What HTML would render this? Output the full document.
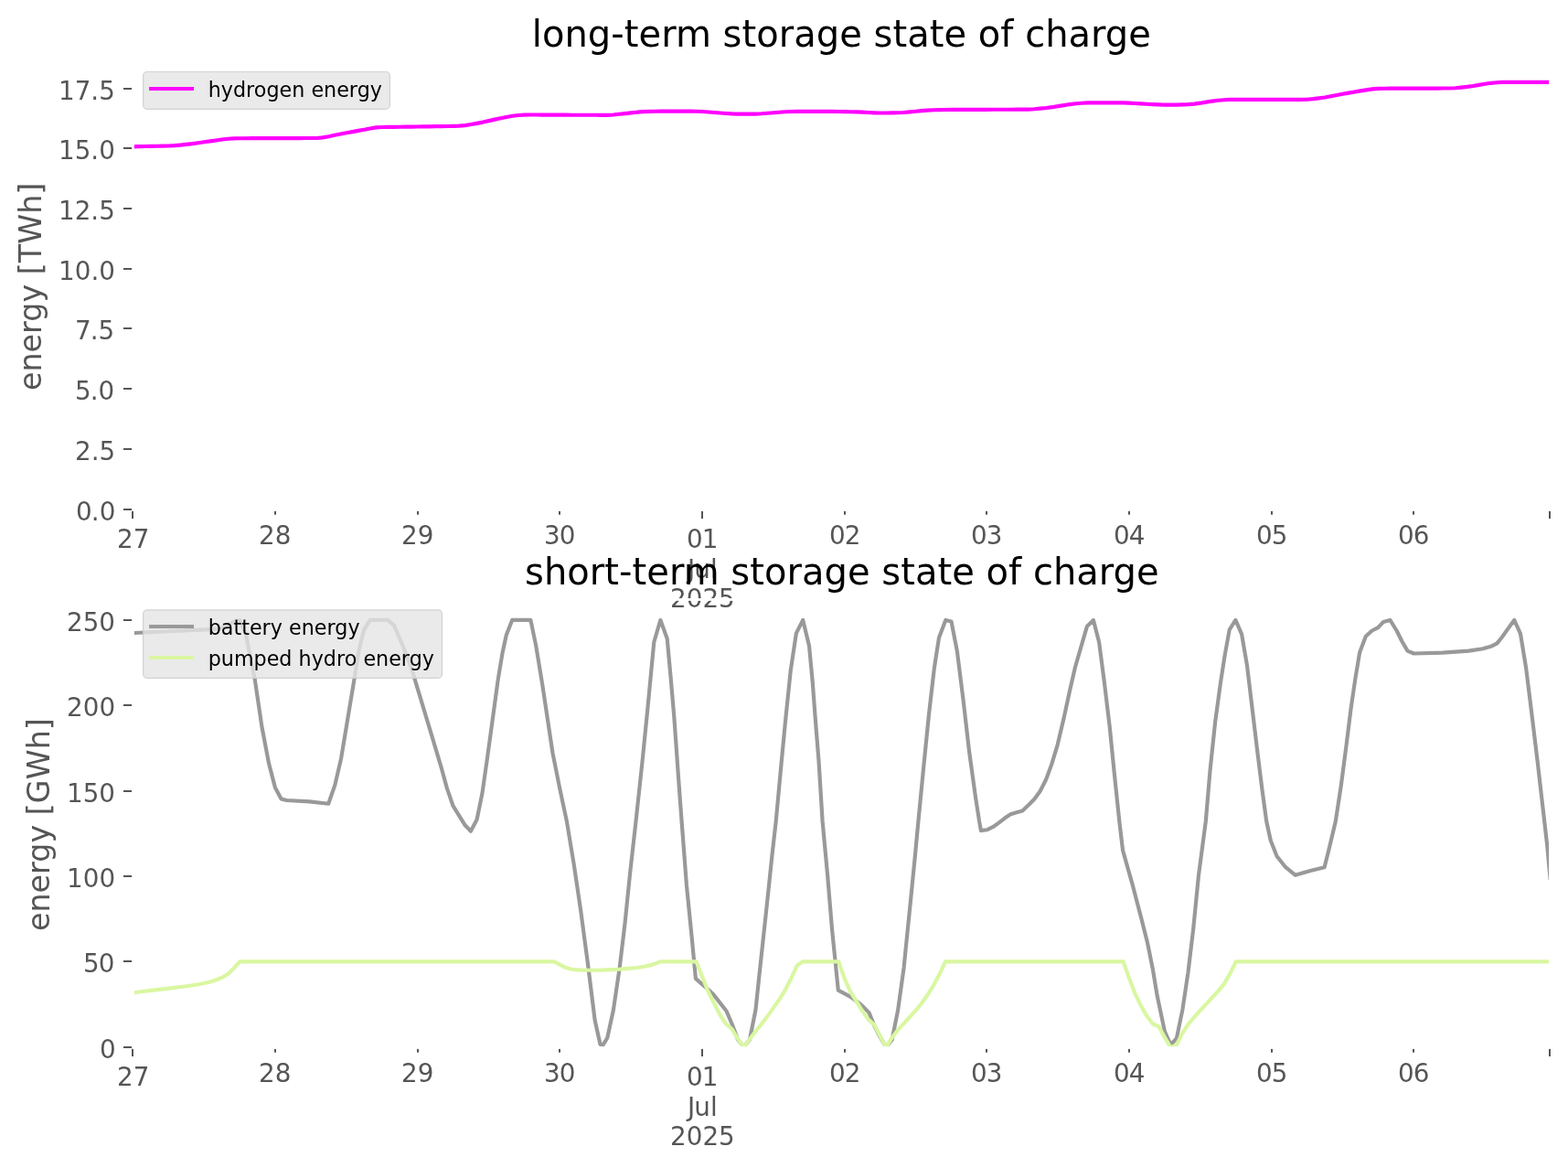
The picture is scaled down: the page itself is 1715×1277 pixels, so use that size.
<!DOCTYPE html>
<html lang="en"><head><meta charset="utf-8"><title>storage state of charge</title>
<style>html,body{margin:0;padding:0;background:#fff;}body{width:1715px;height:1277px;overflow:hidden;}svg{display:block;}text{font-family:'DejaVu Sans','Liberation Sans',sans-serif;white-space:pre;}</style>
</head><body>
<svg width="1715" height="1277" viewBox="0 0 1715 1277">
<rect width="1715" height="1277" fill="#ffffff"/>
<defs>
<clipPath id="c1"><rect x="145.5" y="67.5" width="1550.0" height="490.0"/></clipPath>
<clipPath id="c2"><rect x="145.5" y="655.5" width="1550.0" height="490.0"/></clipPath>
</defs>
<g clip-path="url(#c1)" fill="none" stroke-width="4.17" stroke-linejoin="round" stroke-linecap="square">
<polyline points="145.50,160.40 151.99,160.13 158.47,159.98 164.96,159.87 171.44,159.78 177.93,159.66 184.41,159.48 190.90,159.14 197.38,158.58 203.87,157.92 210.35,157.16 216.84,156.21 223.32,155.26 229.81,154.38 236.29,153.45 242.78,152.47 249.27,151.78 255.75,151.44 262.24,151.29 268.72,151.23 275.21,151.19 281.69,151.16 288.18,151.14 294.66,151.12 301.15,151.10 307.63,151.08 314.12,151.07 320.60,151.06 327.09,151.05 333.58,151.04 340.06,151.02 346.55,150.97 353.03,150.36 359.52,149.18 366.00,147.76 372.49,146.43 378.97,145.27 385.46,144.09 391.94,142.91 398.43,141.77 404.91,140.47 411.40,139.39 417.88,139.03 424.37,138.94 430.86,138.84 437.34,138.75 443.83,138.67 450.31,138.59 456.80,138.50 463.28,138.41 469.77,138.30 476.25,138.20 482.74,138.09 489.22,137.96 495.71,137.80 502.19,137.57 508.68,137.09 515.17,136.06 521.65,134.85 528.14,133.58 534.62,132.10 541.11,130.65 547.59,129.31 554.08,127.93 560.56,126.72 567.05,125.97 573.53,125.55 580.02,125.50 586.50,125.52 592.99,125.55 599.47,125.59 605.96,125.63 612.45,125.67 618.93,125.70 625.42,125.72 631.90,125.74 638.39,125.76 644.87,125.77 651.36,125.79 657.84,125.80 664.33,125.80 670.81,125.49 677.30,124.76 683.78,124.06 690.27,123.39 696.76,122.70 703.24,122.16 709.73,121.90 716.21,121.74 722.70,121.70 729.18,121.70 735.67,121.70 742.15,121.70 748.64,121.70 755.12,121.70 761.61,121.71 768.09,121.99 774.58,122.49 781.06,123.03 787.55,123.48 794.04,123.99 800.52,124.42 807.01,124.60 813.49,124.60 819.98,124.60 826.46,124.55 832.95,124.22 839.43,123.72 845.92,123.24 852.40,122.76 858.89,122.26 865.37,122.00 871.86,121.93 878.35,121.88 884.83,121.84 891.32,121.81 897.80,121.80 904.29,121.81 910.77,121.88 917.26,121.99 923.74,122.13 930.23,122.29 936.71,122.45 943.20,122.70 949.68,123.02 956.17,123.31 962.65,123.48 969.14,123.49 975.63,123.41 982.11,123.29 988.60,122.97 995.08,122.42 1001.57,121.76 1008.05,121.12 1014.54,120.61 1021.02,120.29 1027.51,120.05 1033.99,119.97 1040.48,119.93 1046.96,119.90 1053.45,119.88 1059.94,119.86 1066.42,119.84 1072.91,119.83 1079.39,119.80 1085.88,119.78 1092.36,119.76 1098.85,119.74 1105.33,119.72 1111.82,119.69 1118.30,119.65 1124.79,119.59 1131.27,119.26 1137.76,118.67 1144.24,118.03 1150.73,117.19 1157.22,116.16 1163.70,115.07 1170.19,114.06 1176.67,113.27 1183.16,112.77 1189.64,112.39 1196.13,112.30 1202.61,112.30 1209.10,112.30 1215.58,112.30 1222.07,112.30 1228.55,112.32 1235.04,112.57 1241.53,112.99 1248.01,113.40 1254.50,113.74 1260.98,114.11 1267.47,114.44 1273.95,114.66 1280.44,114.69 1286.92,114.57 1293.41,114.37 1299.89,114.10 1306.38,113.58 1312.86,112.69 1319.35,111.62 1325.83,110.56 1332.32,109.72 1338.81,109.25 1345.29,108.95 1351.78,108.90 1358.26,108.90 1364.75,108.90 1371.23,108.90 1377.72,108.90 1384.20,108.90 1390.69,108.90 1397.17,108.90 1403.66,108.90 1410.14,108.90 1416.63,108.90 1423.12,108.90 1429.60,108.79 1436.09,108.19 1442.57,107.34 1449.06,106.45 1455.54,105.29 1462.03,104.00 1468.51,102.76 1475.00,101.60 1481.48,100.44 1487.97,99.34 1494.45,98.38 1500.94,97.41 1507.42,96.81 1513.91,96.75 1520.40,96.70 1526.88,96.67 1533.37,96.65 1539.85,96.63 1546.34,96.61 1552.82,96.59 1559.31,96.58 1565.79,96.56 1572.28,96.55 1578.76,96.53 1585.25,96.50 1591.73,96.24 1598.22,95.63 1604.71,94.92 1611.19,94.04 1617.68,92.89 1624.16,91.72 1630.65,90.80 1637.13,90.28 1643.62,89.91 1650.10,89.80 1656.59,89.80 1663.07,89.80 1669.56,89.80 1676.04,89.80 1682.53,89.80 1689.01,89.80 1695.50,89.80" stroke="#ff00ff"/>
</g>
<g fill="#555555">
<rect x="135" y="556" width="10" height="2"/>
<rect x="135" y="490" width="10" height="2"/>
<rect x="135" y="424" width="10" height="2"/>
<rect x="135" y="358" width="10" height="2"/>
<rect x="135" y="293" width="10" height="2"/>
<rect x="135" y="227" width="10" height="2"/>
<rect x="135" y="161" width="10" height="2"/>
<rect x="135" y="96" width="10" height="2"/>
<rect x="144" y="557.0" width="2" height="10"/>
<rect x="300" y="557.0" width="2" height="5.7"/>
<rect x="456" y="557.0" width="2" height="5.7"/>
<rect x="611" y="557.0" width="2" height="5.7"/>
<rect x="767" y="557.0" width="2" height="10"/>
<rect x="923" y="557.0" width="2" height="5.7"/>
<rect x="1078" y="557.0" width="2" height="5.7"/>
<rect x="1234" y="557.0" width="2" height="5.7"/>
<rect x="1390" y="557.0" width="2" height="5.7"/>
<rect x="1545" y="557.0" width="2" height="5.7"/>
<rect x="1694" y="557.0" width="2" height="10"/>
</g>
<rect x="145.5" y="67.5" width="1550.0" height="490.0" fill="none" stroke="#ffffff" stroke-width="2.78"/>
<text x="83 99.75 108.625" y="569" font-size="27.78px" fill="#555555">0.0</text>
<text x="82 99.625 108.5" y="503" font-size="27.78px" fill="#555555">2.5</text>
<text x="82 98.625 107.5" y="437" font-size="27.78px" fill="#555555">5.0</text>
<text x="82 98.625 107.5" y="371" font-size="27.78px" fill="#555555">7.5</text>
<text x="64 81.625 99.375 108.25" y="306" font-size="27.78px" fill="#555555">10.0</text>
<text x="64 81.625 99.25 108.125" y="240" font-size="27.78px" fill="#555555">12.5</text>
<text x="64 81.625 99.25 108.125" y="174" font-size="27.78px" fill="#555555">15.0</text>
<text x="64 81.625 99.25 108.125" y="109" font-size="27.78px" fill="#555555">17.5</text>
<text x="128 145.625" y="599" font-size="27.78px" fill="#555555">27</text>
<text x="283 300.625" y="595" font-size="27.78px" fill="#555555">28</text>
<text x="439 456.625" y="595" font-size="27.78px" fill="#555555">29</text>
<text x="595 611.75" y="595" font-size="27.78px" fill="#555555">30</text>
<text x="751 767.75" y="599" font-size="27.78px" fill="#555555">01</text>
<text x="752 759.25 776.875" y="632" font-size="27.78px" fill="#555555">Jul</text>
<text x="733 750.625 768.375 786" y="664" font-size="27.78px" fill="#555555">2025</text>
<text x="907 923.75" y="595" font-size="27.78px" fill="#555555">02</text>
<text x="1062 1078.75" y="595" font-size="27.78px" fill="#555555">03</text>
<text x="1218 1234.75" y="595" font-size="27.78px" fill="#555555">04</text>
<text x="1374 1390.75" y="595" font-size="27.78px" fill="#555555">05</text>
<text x="1529 1545.75" y="595" font-size="27.78px" fill="#555555">06</text>
<text transform="translate(45,427) rotate(-90)" x="0 20.5 41.625 62.125 75.25 96.5 116.25 126.875 139.875 160.25 193.25 214.375" y="0" font-size="33.33px" fill="#555555">energy [TWh]</text>
<text x="581.8 592.925 617.425 642.8 668.3 682.8 698.55 723.175 738.925 777.8 790.55 811.425 827.175 851.675 868.175 892.675 918.175 942.8 955.55 976.425 992.175 1016.675 1032.425 1057.05 1069.8 1094.3 1108.425 1121.175 1143.175 1168.55 1193.05 1208.8 1234.3" y="51" font-size="40.00px" fill="#000000">long-term storage state of charge</text>
<rect x="156.60" y="78.50" width="269.80" height="40.90" rx="4.4" ry="4.4" fill="#e5e5e5" fill-opacity="0.8" stroke="#cccccc" stroke-opacity="0.85" stroke-width="1.2"/>
<line x1="165.2" x2="209.95" y1="97.0" y2="97.0" stroke="#ff00ff" stroke-width="4.17" stroke-linecap="square"/>
<text x="227.7 241.825 254.95 269.075 277.825 291.45 305.575 319.2 333.325 340.45 354.075 368.2 381.825 390.7 404.825" y="106" font-size="22.22px" fill="#000000">hydrogen energy</text>
<g clip-path="url(#c2)" fill="none" stroke-width="4.17" stroke-linejoin="round" stroke-linecap="square">
<polyline points="145.50,692.10 147.00,692.00 190.00,690.00 229.80,688.10 236.30,687.70 242.80,686.50 249.30,683.70 255.80,679.80 262.20,677.95 268.70,692.60 275.20,725.50 278.70,742.50 286.40,794.50 294.10,834.90 300.90,860.90 307.60,873.50 313.40,875.00 338.40,876.40 359.20,878.70 366.40,858.10 373.10,829.20 380.80,782.90 387.50,742.50 392.40,711.60 398.10,688.50 404.90,677.95 424.20,677.95 430.90,683.70 440.50,705.90 450.20,730.90 455.90,750.20 460.00,763.70 471.60,802.20 483.10,840.70 488.90,861.90 495.60,881.20 508.70,902.30 514.90,908.70 521.60,896.00 527.40,867.70 533.20,827.20 539.00,784.90 544.80,742.50 549.60,713.60 553.80,694.30 560.20,677.95 580.40,677.95 586.20,705.90 592.90,746.30 598.70,784.90 604.50,823.40 612.20,861.90 619.90,898.00 627.60,944.30 635.30,996.30 643.00,1054.10 650.70,1115.80 656.50,1141.80 659.40,1142.70 664.20,1135.00 670.90,1104.20 677.70,1058.00 683.50,1009.80 689.20,953.90 695.50,898.00 702.70,831.10 708.50,773.30 715.30,702.00 722.40,677.95 729.70,698.20 733.60,740.50 737.40,784.90 742.20,852.30 745.60,898.00 750.90,967.40 756.70,1025.20 760.90,1069.90 775.90,1083.00 780.00,1086.90 794.40,1105.20 800.80,1120.00 807.00,1136.50 813.50,1144.60 820.00,1136.50 826.50,1104.00 830.10,1069.50 834.90,1025.20 839.70,980.90 844.50,934.70 848.70,898.00 854.20,838.80 859.00,788.70 864.80,732.80 870.90,692.40 878.20,677.95 885.00,705.90 888.80,746.30 891.70,784.90 895.60,833.00 899.60,898.00 905.20,957.80 910.00,1015.60 913.90,1054.10 916.80,1082.60 930.30,1089.80 941.80,1098.40 950.50,1107.10 956.20,1121.20 962.70,1134.00 969.15,1144.60 975.60,1137.00 982.10,1104.50 988.60,1058.00 990.90,1034.90 995.80,986.70 1000.60,938.50 1004.40,898.00 1010.20,838.80 1016.00,781.00 1021.80,730.90 1027.00,697.20 1034.30,677.95 1040.50,679.50 1046.80,711.60 1053.60,765.60 1060.30,823.40 1067.00,871.50 1071.10,898.00 1072.90,908.10 1079.40,907.30 1085.90,904.20 1092.40,899.60 1098.90,894.60 1105.30,890.30 1111.80,888.30 1118.30,886.60 1124.80,880.30 1131.30,873.70 1137.80,864.70 1144.20,852.00 1150.50,834.90 1156.80,813.80 1163.60,784.90 1170.30,754.00 1176.10,729.00 1182.80,705.90 1189.00,684.70 1195.90,677.95 1202.10,702.00 1207.90,746.30 1213.70,794.50 1218.50,842.60 1224.30,898.00 1228.10,929.90 1238.70,967.40 1248.30,1004.00 1255.10,1031.00 1260.90,1059.90 1265.70,1088.80 1273.96,1127.90 1280.45,1142.30 1286.90,1135.20 1293.40,1103.80 1299.40,1063.70 1305.20,1015.60 1310.90,957.80 1318.80,898.00 1323.50,842.60 1329.20,788.70 1335.00,746.30 1339.80,715.50 1344.70,688.50 1351.40,677.95 1358.10,693.30 1363.90,727.10 1369.70,775.20 1375.50,823.40 1380.30,861.90 1385.20,898.00 1389.80,919.00 1396.60,936.20 1406.20,948.20 1416.80,956.80 1433.20,952.00 1448.60,948.20 1454.40,925.00 1460.80,898.00 1466.90,858.10 1472.70,813.80 1477.50,775.20 1482.30,742.50 1487.10,713.60 1493.80,695.80 1500.60,689.50 1507.30,686.20 1513.10,679.90 1520.40,677.95 1527.60,689.50 1533.30,701.00 1539.50,711.60 1546.40,714.50 1577.60,713.60 1606.50,711.60 1621.90,709.30 1630.60,706.80 1637.40,703.40 1643.10,696.20 1649.90,686.60 1656.20,677.95 1663.00,692.80 1669.20,730.90 1675.90,784.90 1681.70,833.00 1689.20,898.00 1692.30,925.00 1695.50,960.00" stroke="#999999"/>
<polyline points="145.50,1085.50 151.99,1084.55 158.47,1083.70 164.96,1082.90 171.44,1082.10 177.93,1081.40 184.41,1080.60 190.90,1079.90 197.38,1079.05 203.87,1078.20 210.35,1077.30 216.84,1076.25 223.32,1075.00 229.81,1073.50 236.29,1071.50 242.78,1068.70 249.27,1065.00 255.75,1058.70 262.24,1051.30 605.96,1051.30 612.45,1054.70 618.93,1058.06 625.42,1059.74 631.90,1060.40 638.39,1060.67 644.87,1060.76 651.36,1060.76 657.84,1060.67 664.33,1060.40 670.81,1060.10 677.30,1059.74 683.78,1059.18 690.27,1058.62 696.76,1057.97 703.24,1057.03 709.73,1055.63 716.21,1053.77 722.70,1051.30 761.60,1051.30 768.10,1068.10 774.60,1084.30 781.10,1097.00 787.60,1109.70 794.00,1119.50 800.50,1125.00 807.00,1135.60 813.50,1145.20 820.00,1135.90 826.50,1127.40 833.00,1119.50 839.40,1111.10 845.90,1101.90 852.40,1092.80 858.90,1082.20 865.40,1069.50 871.90,1055.40 878.20,1051.30 917.30,1051.30 923.75,1070.20 930.20,1084.30 936.70,1094.90 943.20,1105.40 949.70,1114.60 956.20,1120.40 962.70,1133.00 969.15,1145.00 975.60,1134.60 982.10,1125.90 988.60,1118.80 995.10,1111.80 1001.60,1104.70 1008.10,1096.70 1014.50,1087.80 1021.00,1077.30 1027.50,1065.30 1034.00,1051.30 1228.55,1051.30 1235.04,1069.50 1241.53,1086.40 1248.01,1099.80 1254.50,1111.10 1260.98,1119.50 1267.47,1122.40 1273.95,1134.30 1280.44,1145.30 1286.92,1142.40 1293.41,1129.40 1299.89,1119.50 1306.38,1111.80 1312.86,1104.70 1319.35,1097.70 1325.83,1090.60 1332.32,1083.60 1338.81,1075.80 1345.29,1064.60 1351.78,1051.30 1695.50,1051.30" stroke="#d9f7a1"/>
</g>
<g fill="#555555">
<rect x="135" y="1144" width="10" height="2"/>
<rect x="135" y="1050" width="10" height="2"/>
<rect x="135" y="957" width="10" height="2"/>
<rect x="135" y="864" width="10" height="2"/>
<rect x="135" y="770" width="10" height="2"/>
<rect x="135" y="677" width="10" height="2"/>
<rect x="144" y="1145.0" width="2" height="10"/>
<rect x="300" y="1145.0" width="2" height="5.7"/>
<rect x="456" y="1145.0" width="2" height="5.7"/>
<rect x="611" y="1145.0" width="2" height="5.7"/>
<rect x="767" y="1145.0" width="2" height="10"/>
<rect x="923" y="1145.0" width="2" height="5.7"/>
<rect x="1078" y="1145.0" width="2" height="5.7"/>
<rect x="1234" y="1145.0" width="2" height="5.7"/>
<rect x="1390" y="1145.0" width="2" height="5.7"/>
<rect x="1545" y="1145.0" width="2" height="5.7"/>
<rect x="1694" y="1145.0" width="2" height="10"/>
</g>
<rect x="145.5" y="655.5" width="1550.0" height="490.0" fill="none" stroke="#ffffff" stroke-width="2.78"/>
<text x="109" y="1157" font-size="27.78px" fill="#555555">0</text>
<text x="91 107.625" y="1063" font-size="27.78px" fill="#555555">50</text>
<text x="73 90.625 108.375" y="970" font-size="27.78px" fill="#555555">100</text>
<text x="73 90.625 108.25" y="877" font-size="27.78px" fill="#555555">150</text>
<text x="73 90.625 108.375" y="783" font-size="27.78px" fill="#555555">200</text>
<text x="73 90.625 108.25" y="690" font-size="27.78px" fill="#555555">250</text>
<text x="128 145.625" y="1187" font-size="27.78px" fill="#555555">27</text>
<text x="283 300.625" y="1183" font-size="27.78px" fill="#555555">28</text>
<text x="439 456.625" y="1183" font-size="27.78px" fill="#555555">29</text>
<text x="595 611.75" y="1183" font-size="27.78px" fill="#555555">30</text>
<text x="751 767.75" y="1187" font-size="27.78px" fill="#555555">01</text>
<text x="752 759.25 776.875" y="1220" font-size="27.78px" fill="#555555">Jul</text>
<text x="733 750.625 768.375 786" y="1252" font-size="27.78px" fill="#555555">2025</text>
<text x="907 923.75" y="1183" font-size="27.78px" fill="#555555">02</text>
<text x="1062 1078.75" y="1183" font-size="27.78px" fill="#555555">03</text>
<text x="1218 1234.75" y="1183" font-size="27.78px" fill="#555555">04</text>
<text x="1374 1390.75" y="1183" font-size="27.78px" fill="#555555">05</text>
<text x="1529 1545.75" y="1183" font-size="27.78px" fill="#555555">06</text>
<text transform="translate(54,1018) rotate(-90)" x="0 20.5 41.625 62.125 75.25 96.5 116.25 126.875 139.875 165.75 198.75 219.875" y="0" font-size="33.33px" fill="#555555">energy [GWh]</text>
<text x="574 594.875 620.25 644.75 661.25 677 691.5 707.25 731.875 747.625 786.5 799.25 820.125 835.875 860.375 876.875 901.375 926.875 951.5 964.25 985.125 1000.875 1025.375 1041.125 1065.75 1078.5 1103 1117.125 1129.875 1151.875 1177.25 1201.75 1217.5 1243" y="639" font-size="40.00px" fill="#000000">short-term storage state of charge</text>
<rect x="156.60" y="666.90" width="326.90" height="74.50" rx="4.4" ry="4.4" fill="#e5e5e5" fill-opacity="0.8" stroke="#cccccc" stroke-opacity="0.85" stroke-width="1.2"/>
<line x1="165.2" x2="209.95" y1="685.0" y2="685.0" stroke="#999999" stroke-width="4.17" stroke-linecap="square"/>
<text x="227.7 241.825 255.45 264.2 272.95 286.575 295.825 308.95 316.075 329.7 343.825 357.45 366.325 380.45" y="694" font-size="22.22px" fill="#000000">battery energy</text>
<line x1="165.2" x2="209.95" y1="719.0" y2="719.0" stroke="#d9f7a1" stroke-width="4.17" stroke-linecap="square"/>
<text x="227.7 241.825 255.95 277.575 291.7 305.325 319.45 326.575 340.7 353.825 367.95 376.7 390.325 397.45 411.075 425.2 438.825 447.7 461.825" y="728" font-size="22.22px" fill="#000000">pumped hydro energy</text>
</svg>
</body></html>
